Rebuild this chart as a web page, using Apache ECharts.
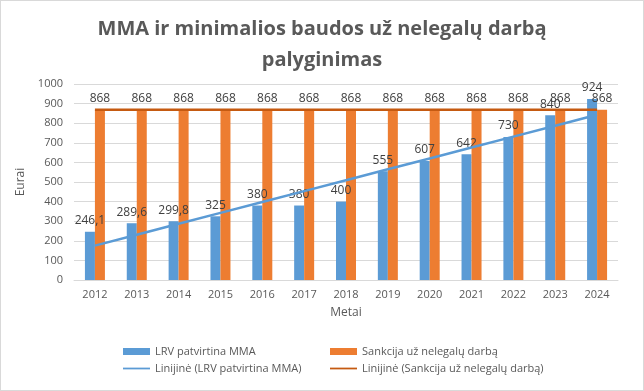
<!DOCTYPE html>
<html><head><meta charset="utf-8">
<script src="https://cdn.jsdelivr.net/npm/echarts@6/dist/echarts.min.js"></script>
<style>html,body{margin:0;padding:0;background:#fff}#c{width:642px;height:389px;border:1px solid #D9D9D9}</style>
</head><body><div id="c"></div>
<script>
const years = ['2012','2013','2014','2015','2016','2017','2018','2019','2020','2021','2022','2023','2024'];
const mma = [246.1,289.6,299.8,325,380,380,400,555,607,642,730,840,924];
const sankcija = [868,868,868,868,868,868,868,868,868,868,868,868,868];
const yTicks = [0,100,200,300,400,500,600,700,800,900,1000];

function linearTrend(arr){
  const n = arr.length; let sx=0, sy=0, sxy=0, sxx=0;
  arr.forEach((y,i)=>{const x=i+1; sx+=x; sy+=y; sxy+=x*y; sxx+=x*x;});
  const b = (n*sxy - sx*sy)/(n*sxx - sx*sx); const a = (sy - b*sx)/n;
  return arr.map((_,i)=>+(a+b*(i+1)).toFixed(3));
}
const fmt = p => String(p.value).replace('.', ',');
const chart = echarts.init(document.getElementById('c'));
const txt = '#595959';
const lineIcon = 'path://M0 0H40V2.6H0Z';
chart.setOption({
  animation:false,
  backgroundColor:'#fff',
  title:{text:'MMA ir minimalios baudos už nelegalų darbą\npalyginimas', left:'center', top:8,
    textStyle:{fontFamily:'Open Sans', fontWeight:'bold', fontSize:20, color:txt, lineHeight:31}},
  grid:{left:73, right:25, top:83, bottom:110},
  legend:[
    {orient:'vertical', left:117, top:340, itemGap:6, itemWidth:27, itemHeight:7,
     textStyle:{color:txt, fontSize:11, fontFamily:'Open Sans'}, data:[{name:'LRV patvirtina MMA', icon:'rect'},{name:'Linijinė (LRV patvirtina MMA)', icon:lineIcon}]},
    {orient:'vertical', left:324, top:340, itemGap:6, itemWidth:27, itemHeight:7,
     textStyle:{color:txt, fontSize:11, fontFamily:'Open Sans'}, data:[{name:'Sankcija už nelegalų darbą', icon:'rect'},{name:'Linijinė (Sankcija už nelegalų darbą)', icon:lineIcon}]}
  ],
  xAxis:{type:'category', data:years, name:'Metai', nameLocation:'middle', nameGap:27,
    nameTextStyle:{color:txt, fontSize:12, fontFamily:'Open Sans'},
    axisLine:{lineStyle:{color:'#D9D9D9'}}, axisTick:{show:false},
    axisLabel:{color:txt, fontSize:11, margin:9, fontFamily:'Open Sans'}},
  yAxis:{type:'value', min:yTicks[0], max:yTicks[yTicks.length-1], interval:100, name:'Eurai', nameLocation:'middle', nameGap:37,
    nameTextStyle:{color:txt, fontSize:12, fontFamily:'Open Sans'},
    axisLine:{show:false}, axisTick:{show:false},
    splitLine:{lineStyle:{color:'#D9D9D9'}},
    axisLabel:{color:txt, fontSize:11, margin:11, fontFamily:'Open Sans', formatter:v=>String(v)}},
  series:[
    {name:'LRV patvirtina MMA', type:'bar', data:mma, barWidth:10, barGap:'0%', itemStyle:{color:'#5B9BD5'},
     label:{show:true, position:'top', distance:5, color:'#404040', fontSize:12, fontFamily:'Open Sans', formatter:fmt}},
    {name:'Sankcija už nelegalų darbą', type:'bar', data:sankcija, barWidth:10, itemStyle:{color:'#ED7D31'},
     label:{show:true, position:'top', distance:5, color:'#404040', fontSize:12, fontFamily:'Open Sans', formatter:fmt}},
    {name:'Linijinė (LRV patvirtina MMA)', type:'line', data:linearTrend(mma), symbol:'none', z:5,
     lineStyle:{color:'#5B9BD5', width:2.5}, itemStyle:{color:'#5B9BD5'}},
    {name:'Linijinė (Sankcija už nelegalų darbą)', type:'line', data:linearTrend(sankcija), symbol:'none', z:5,
     lineStyle:{color:'#C55A11', width:2.5}, itemStyle:{color:'#C55A11'}}
  ]
});
</script></body></html>
